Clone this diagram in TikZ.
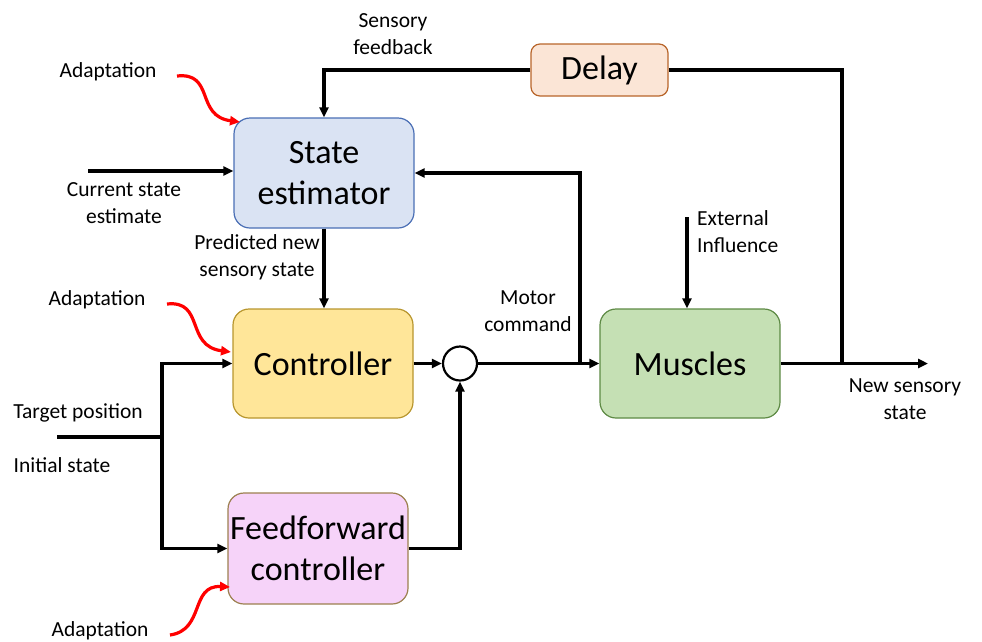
\documentclass[tikz,border=0pt]{standalone}
\usepackage{fontspec}
\setmainfont{Carlito}
\usetikzlibrary{arrows.meta}
\definecolor{seF}{HTML}{DAE3F3}\definecolor{seD}{HTML}{4A6FB5}
\definecolor{ctF}{HTML}{FFE699}\definecolor{ctD}{HTML}{B8962E}
\definecolor{ffF}{HTML}{F6D3F9}\definecolor{ffD}{HTML}{9C8050}
\definecolor{dlF}{HTML}{FBE5D6}\definecolor{dlD}{HTML}{B8652A}
\definecolor{muF}{HTML}{C5E0B4}\definecolor{muD}{HTML}{5E8A45}
\begin{document}
\begin{tikzpicture}[x=1pt,y=-1pt,
 blk/.style={draw, rounded corners=16pt, line width=1.2pt, minimum width=180pt, minimum height=110pt, font=\fontsize{34}{41}\selectfont, align=center, inner sep=0pt},
 lbl/.style={font=\fontsize{21.5}{27}\selectfont, align=center, inner sep=0pt},
 conn/.style={line width=3.2pt, -{Triangle[length=10pt,width=9pt]}},
 ln/.style={line width=3.2pt},
 adapt/.style={red, line width=3.2pt, -{Triangle[length=10pt,width=9pt]}}
]
\useasboundingbox (0,0) rectangle (982,641);
% blocks
\node[blk, fill=seF, draw=seD] (se) at (324,173) {State\\estimator};
\node[blk, fill=ctF, draw=ctD, minimum height=109pt] (ctrl) at (323,363.5) {Controller};
\node[blk, fill=ffF, draw=ffD, minimum height=111pt] (ff) at (318,548.5) {Feedforward\\controller};
\node[blk, fill=dlF, draw=dlD, minimum width=137pt, minimum height=52pt, rounded corners=9pt] (delay) at (599.5,70) {Delay};
\node[blk, fill=muF, draw=muD, minimum height=109pt] (mus) at (690,363.5) {Muscles};
\node[circle, draw, line width=2.2pt, minimum size=34pt, inner sep=0pt] (sum) at (460,363.5) {};
% labels
\node[lbl] (l1) at (108,72) {Adaptation};
\node[lbl] (l2) at (393,34.5) {Sensory\\feedback};
\node[lbl] (l3) at (124,203.5) {Current state\\estimate};
\node[lbl] (l4) at (257,257.5) {Predicted new\\sensory state};
\node[lbl] (l5) at (97,300) {Adaptation};
\node[lbl] (l6) at (528,311.5) {Motor\\command};
\node[lbl, align=left, anchor=west] (l7) at (697,231.5) {External\\Influence};
\node[lbl] (l8) at (905,399.5) {New sensory\\state};
\node[lbl] (l9) at (78,413) {Target position};
\node[lbl] (l10) at (62,465) {Initial state};
\node[lbl] (l11) at (100,631) {Adaptation};
% coordinates
\coordinate (j1) at (842,363.5);
\coordinate (out) at (928,363.5);
\coordinate (cin) at (88,171);
\coordinate (j2) at (580,363.5);
\coordinate (tin) at (57,437);
\coordinate (j3) at (162,437);
\coordinate (ext) at (687,217);
% connectors
\draw[conn] (delay.west) -| (se.north);
\draw[ln] (delay.east) -| (j1);
\draw[conn] (mus.east) -- (out);
\draw[conn] (cin) -- (cin -| se.west);
\draw[conn] (se.south) -- (se.south |- ctrl.north);
\draw[conn] (ctrl.east) -- (sum.west);
\draw[conn] (sum.east) -- (mus.west);
\draw[conn] (j2) |- (se.east);
\draw[conn] (ff.east) -| (sum.south);
\draw[ln] (tin) -- (j3);
\draw[conn] (j3) |- (ctrl.west);
\draw[conn] (j3) |- (ff.west);
\draw[conn] (ext) -- (ext |- mus.north);
% adaptation arrows
\coordinate (a1s) at (177,76);
\coordinate (a1e) at (240,122);
\coordinate (a2s) at (167,304);
\coordinate (a2e) at (231,352);
\coordinate (a3s) at (170,635);
\coordinate (a3e) at (230,587);
\draw[adapt] (a1s) .. controls (215,72) and (195,116) .. (a1e);
\draw[adapt] (a2s) .. controls (205,300) and (185,346) .. (a2e);
\draw[adapt] (a3s) .. controls (205,630) and (190,585) .. (a3e);
\end{tikzpicture}
\end{document}
